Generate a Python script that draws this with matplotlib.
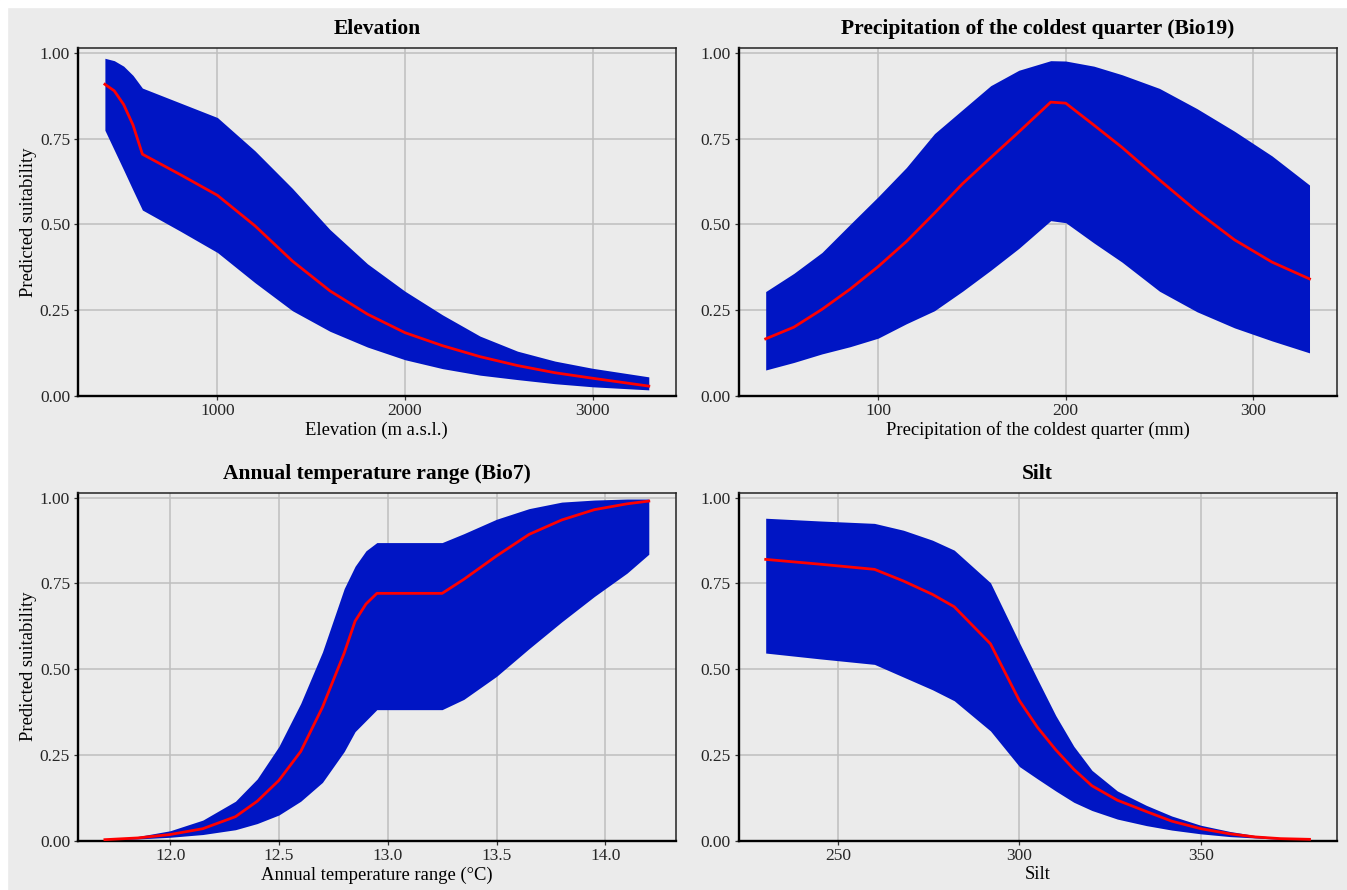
#Response curves (predicted suitability) for four predictors, 2x2 panels
#ribbon = confidence band, red line = mean prediction

import numpy as np
import matplotlib
matplotlib.use("Agg")
import matplotlib.pyplot as plt
from matplotlib.patches import Rectangle

plt.rcParams['font.family'] = ['Liberation Serif', 'DejaVu Serif']

# ---- data ----
elev_x = [400, 450, 500, 550, 600, 800, 1000, 1200, 1400, 1600, 1800, 2000,
          2200, 2400, 2600, 2800, 3000, 3300]
elev_hi = [0.985, 0.978, 0.962, 0.935, 0.898, 0.855, 0.812, 0.715, 0.605, 0.485,
           0.385, 0.305, 0.236, 0.174, 0.130, 0.101, 0.080, 0.055]
elev_mid = [0.909, 0.890, 0.850, 0.790, 0.705, 0.646, 0.585, 0.496, 0.393, 0.306,
            0.238, 0.184, 0.146, 0.114, 0.088, 0.067, 0.051, 0.028]
elev_lo = [0.775, 0.717, 0.659, 0.600, 0.542, 0.481, 0.418, 0.330, 0.248, 0.188,
           0.142, 0.105, 0.079, 0.060, 0.047, 0.035, 0.026, 0.017]

prec_x = [40, 55, 70, 85, 100, 115, 130, 145, 160, 175, 192, 200, 215, 230, 250,
          270, 290, 310, 330]
prec_hi = [0.304, 0.357, 0.418, 0.500, 0.581, 0.666, 0.765, 0.835, 0.905, 0.950,
           0.978, 0.977, 0.962, 0.937, 0.897, 0.838, 0.772, 0.700, 0.615]
prec_mid = [0.166, 0.200, 0.252, 0.311, 0.377, 0.450, 0.533, 0.619, 0.695, 0.770,
            0.857, 0.854, 0.790, 0.725, 0.630, 0.538, 0.455, 0.390, 0.341]
prec_lo = [0.075, 0.097, 0.122, 0.143, 0.168, 0.210, 0.248, 0.305, 0.366, 0.430,
           0.511, 0.505, 0.446, 0.390, 0.305, 0.245, 0.198, 0.160, 0.125]

bio7_x = [11.7, 11.85, 12.0, 12.15, 12.3, 12.4, 12.5, 12.6, 12.7, 12.8, 12.85, 12.9,
          12.95, 13.25, 13.35, 13.5, 13.65, 13.8, 13.95, 14.1, 14.2]
bio7_hi = [0.004, 0.012, 0.029, 0.060, 0.115, 0.180, 0.275, 0.400, 0.550, 0.735,
           0.800, 0.845, 0.869, 0.869, 0.895, 0.937, 0.968, 0.987, 0.993, 0.996, 0.996]
bio7_mid = [0.003, 0.008, 0.018, 0.035, 0.070, 0.115, 0.176, 0.260, 0.389, 0.547,
            0.640, 0.690, 0.721, 0.721, 0.762, 0.830, 0.893, 0.935, 0.965, 0.982, 0.990]
bio7_lo = [0.002, 0.005, 0.010, 0.018, 0.032, 0.050, 0.075, 0.115, 0.170, 0.260,
           0.318, 0.350, 0.382, 0.382, 0.412, 0.479, 0.560, 0.638, 0.712, 0.780, 0.835]

silt_x = [230, 245, 260, 268, 276, 282, 292, 300, 305, 310, 315, 320, 327, 335, 342,
          350, 358, 365, 372, 380]
silt_hi = [0.940, 0.932, 0.925, 0.905, 0.876, 0.847, 0.752, 0.577, 0.470, 0.365,
           0.275, 0.205, 0.145, 0.103, 0.072, 0.045, 0.027, 0.015, 0.009, 0.005]
silt_mid = [0.820, 0.806, 0.791, 0.757, 0.718, 0.682, 0.574, 0.408, 0.330, 0.265,
            0.208, 0.160, 0.118, 0.085, 0.057, 0.035, 0.020, 0.011, 0.006, 0.004]
silt_lo = [0.547, 0.530, 0.514, 0.477, 0.440, 0.408, 0.320, 0.216, 0.180, 0.145,
           0.112, 0.088, 0.063, 0.044, 0.031, 0.020, 0.012, 0.008, 0.004, 0.002]

titles = ["Elevation", "Precipitation of the coldest quarter (Bio19)",
          "Annual temperature range (Bio7)", "Silt"]
xlabels = ["Elevation (m a.s.l.)", "Precipitation of the coldest quarter (mm)",
           "Annual temperature range (\u00b0C)", "Silt"]
xticks = [[1000, 2000, 3000], [100, 200, 300], [12.0, 12.5, 13.0, 13.5, 14.0],
          [250, 300, 350]]
xticklabels = [["1000", "2000", "3000"], ["100", "200", "300"],
               ["12.0", "12.5", "13.0", "13.5", "14.0"], ["250", "300", "350"]]
yticks = [0, 0.25, 0.5, 0.75, 1.0]
yticklabels = ["0.00", "0.25", "0.50", "0.75", "1.00"]

series = [(elev_x, elev_lo, elev_mid, elev_hi),
          (prec_x, prec_lo, prec_mid, prec_hi),
          (bio7_x, bio7_lo, bio7_mid, bio7_hi),
          (silt_x, silt_lo, silt_mid, silt_hi)]

BG = '#EBEBEB'
W, H = 1347, 890
fig = plt.figure(figsize=(W / 100, H / 100), dpi=100, facecolor=BG)
# thin white margin on top and left
fig.patches.append(Rectangle((0, 1 - 7 / H), 1, 7 / H, transform=fig.transFigure,
                             color='white', zorder=-10))
fig.patches.append(Rectangle((0, 0), 7 / W, 1, transform=fig.transFigure,
                             color='white', zorder=-10))

# panel boxes in pixels: left, right, top, bottom
boxes = [(77.7, 676, 48, 395.7), (738.5, 1336.7, 48, 395.7),
         (77.7, 676, 492.5, 840.7), (738.5, 1336.7, 492.5, 840.7)]

for i in range(4):
    l, r, t, b = boxes[i]
    ax = fig.add_axes([l / W, (H - b) / H, (r - l) / W, (b - t) / H])
    ax.set_facecolor(BG)
    x, lo, mid, hi = series[i]
    ax.fill_between(x, lo, hi, color='#0015C4', linewidth=0, zorder=2)
    ax.plot(x, mid, color='#FF0000', linewidth=2.0, zorder=3)

    span = max(x) - min(x)
    ax.set_xlim(min(x) - 0.05 * span, max(x) + 0.05 * span)
    ax.set_ylim(0, 1.015)
    ax.set_xticks(xticks[i])
    ax.set_xticklabels(xticklabels[i])
    ax.set_yticks(yticks)
    ax.set_yticklabels(yticklabels)

    ax.grid(True, color='#BEBEBE', linewidth=1.1, zorder=1)
    ax.set_axisbelow(True)
    ax.tick_params(direction='out', length=3, width=0.9, color='#333333',
                   labelsize=12.5, labelcolor='#262626', pad=2.5)
    for s in ['top', 'right']:
        ax.spines[s].set_linewidth(1.1)
        ax.spines[s].set_color('#222222')
    for s in ['left', 'bottom']:
        ax.spines[s].set_linewidth(1.7)
        ax.spines[s].set_color('black')

    ax.set_title(titles[i], fontsize=15.5, fontweight='bold', pad=10)
    ax.set_xlabel(xlabels[i], fontsize=13.4, labelpad=1.5)
    if i % 2 == 0:
        ax.set_ylabel('Predicted suitability', fontsize=13.4, labelpad=2)

plt.savefig("out.png", dpi=100, facecolor=BG)
